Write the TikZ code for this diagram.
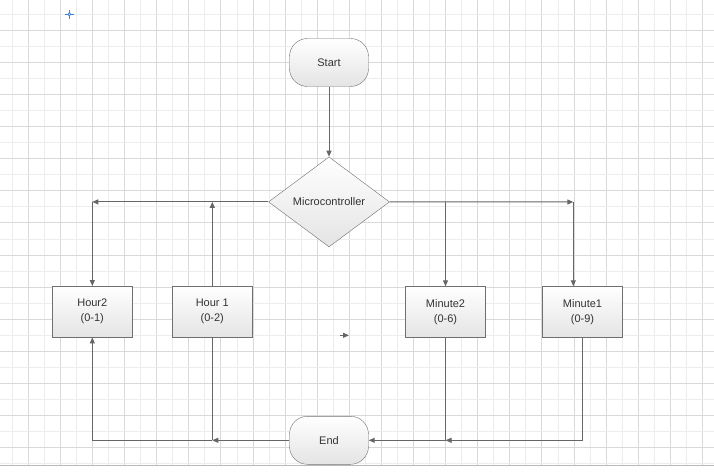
\documentclass[tikz,border=0pt]{standalone}
\usepackage{fontspec}
\setmainfont{Liberation Sans}
\usetikzlibrary{shapes,arrows.meta,positioning}
\definecolor{LineGray}{HTML}{666666}
\definecolor{EdgeGray}{HTML}{707070}
\definecolor{FillGray}{HTML}{E4E4E4}
\definecolor{TextGray}{HTML}{333333}
\definecolor{MinorGray}{HTML}{EDEDED}
\definecolor{MajorGray}{HTML}{D9D9D9}
\definecolor{MarkBlue}{HTML}{3D7FD9}
\tikzstyle{Terminal} = [draw=EdgeGray, rectangle, rounded corners=18pt, minimum width=79pt, minimum height=48pt, top color=white, bottom color=FillGray, text=TextGray]
\tikzstyle{Decision} = [draw=EdgeGray, diamond, aspect=1.34, inner sep=0pt, minimum width=121pt, minimum height=90pt, top color=white, bottom color=FillGray, text=TextGray]
\tikzstyle{Block} = [draw=EdgeGray, rectangle, align=center, minimum width=80pt, minimum height=51pt, top color=white, bottom color=FillGray, text=TextGray]
\tikzstyle{Flow} = [draw=LineGray, line width=1pt, -{Triangle[length=6pt,width=5pt]}]
\tikzstyle{Wire} = [draw=LineGray, line width=1pt]

\begin{document}
\begin{tikzpicture}[x=1pt, y=-1pt, font=\fontsize{11pt}{15pt}\selectfont]
    \useasboundingbox (0,0) rectangle (714,473);
    \fill[white] (0,0) rectangle (714,473);
    % grid
    \foreach \k in {0,...,21} {
      \draw[MinorGray, line width=1pt] ({12.3+32.1*\k},0) -- ({12.3+32.1*\k},465);
      \draw[MajorGray, line width=1pt] ({28.35+32.1*\k},0) -- ({28.35+32.1*\k},465);
    }
    \foreach \k in {0,...,14} {
      \draw[MinorGray, line width=1pt] (0,{14.3+32.1*\k}) -- (714,{14.3+32.1*\k});
    }
    \foreach \k in {0,...,13} {
      \draw[MajorGray, line width=1pt] (0,{30.35+32.1*\k}) -- (714,{30.35+32.1*\k});
    }
    \draw[gray!55, line width=1.5pt] (0,465.7) -- (714,465.7);
    % marker
    \draw[MarkBlue, line width=0.9pt] (64.5,14.3) -- (67.8,14.3) (70.8,14.3) -- (74,14.3)
      (69.3,9.8) -- (69.3,12.8) (69.3,15.8) -- (69.3,19);
    \draw[MarkBlue, line width=0.8pt] (69.3,14.3) circle (1.5);

    \node[Terminal] (start)      at (329,62.5)           {Start};
    \node[Decision] (micro)      [below=70pt of start]   {Microcontroller};
    \node[Block]    (hourtwo)    at (92.3,311.7)         {Hour2\\(0-1)};
    \node[Block]    (hourone)    at (212.3,311.7)        {Hour 1\\(0-2)};
    \node[Block]    (minutetwo)  at (445.5,312)          {Minute2\\(0-6)};
    \node[Block]    (minuteone)  at (582.5,312)          {Minute1\\(0-9)};
    \node[Terminal] (finish)     [below=169pt of micro]  {End};
    \coordinate (rightcorner) at (573.3,202);
    \coordinate (straytail)   at (340,335.3);
    \coordinate (strayhead)   at (349,335.3);

    \draw[Flow] (start) to (micro);
    \draw[Flow] (micro.west) to (hourtwo |- micro.west);
    \draw[Flow] (hourtwo |- micro.west) to (hourtwo.north);
    \draw[Flow] (hourone.north) to (hourone |- micro.west);
    \draw[Flow] (micro.east) to (rightcorner);
    \draw[Flow] (rightcorner) to (rightcorner |- minuteone.north);
    \draw[Flow] (minutetwo |- micro.east) to (minutetwo.north);
    \draw[Flow] (finish.west) to (hourone |- finish.west);
    \draw[Flow] (hourone |- finish.west) -- (hourtwo |- finish.west) -- (hourtwo.south);
    \draw[Wire] (hourone.south) to (hourone |- finish.west);
    \draw[Flow] (minuteone.south) -- (minuteone |- finish.east) -- (minutetwo |- finish.east);
    \draw[Flow] (minutetwo |- finish.east) to (finish.east);
    \draw[Wire] (minutetwo.south) to (minutetwo |- finish.east);
    \draw[Flow] (straytail) to (strayhead);
  \end{tikzpicture}
\end{document}
